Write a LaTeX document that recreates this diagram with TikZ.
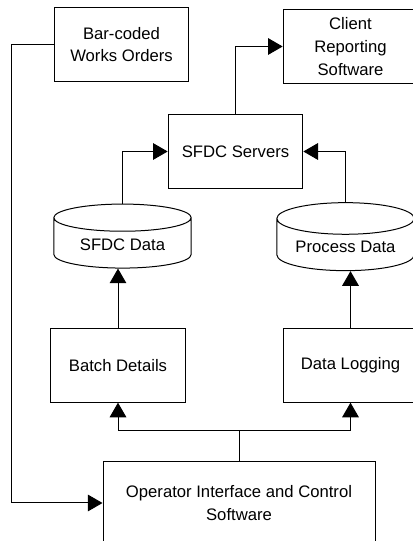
\documentclass[tikz,border=0pt]{standalone}
\usepackage{fontspec}
\setmainfont{Liberation Sans}
\usetikzlibrary{arrows.meta,shapes.geometric}

\tikzset{
  blk/.style={draw, line width=0.75pt, minimum width=101pt, minimum height=55pt,
    align=center, inner sep=2pt, font=\fontsize{12.5}{17}\selectfont},
  store/.style={draw, line width=0.75pt, cylinder, shape border rotate=90, aspect=0.3,
    minimum width=103pt, minimum height=48pt, inner sep=2pt,
    font=\fontsize{12.5}{17}\selectfont},
  arr/.style={line width=0.75pt, -{Triangle[length=11pt,width=12.5pt]}}
}

\begin{document}
\begin{tikzpicture}[x=0.75pt, y=0.75pt]
\useasboundingbox (0,0) rectangle (412,541);
% boxes
\node[blk] (bar) at (121.5,496.5) {Bar-coded\\Works Orders};
\node[blk] (cli) at (350.5,494.5) {Client\\Reporting\\Software};
\node[blk] (srv) at (235.5,389.5) {SFDC Servers};
\node[store] (sdata) at (122.5,296) {SFDC Data};
\node[store, minimum height=51pt] (pdata) at (345.5,294) {Process Data};
\node[blk] (batch) at (118,175.5) {Batch Details};
\node[blk] (log) at (350.5,175.5) {Data Logging};
\node[blk, minimum width=204pt, minimum height=62pt] (op) at (239,38) {Operator Interface and Control\\Software};
\coordinate (split) at (239,110);
% links
\draw[arr] (bar.west) -- ++(-42,0) |- (op.west);
\draw[arr] (srv.north) |- (cli.west);
\draw[arr] (sdata.top) |- (srv.west);
\draw[arr] (pdata.top) |- (srv.east);
\draw[arr] (batch.north) -- (batch.north |- sdata.bottom);
\draw[arr] (log.north) -- (log.north |- pdata.bottom);
\draw[line width=0.75pt] (op.north) -- (split);
\draw[arr] (split) -| (batch.south);
\draw[arr] (split) -| (log.south);
\end{tikzpicture}
\end{document}
